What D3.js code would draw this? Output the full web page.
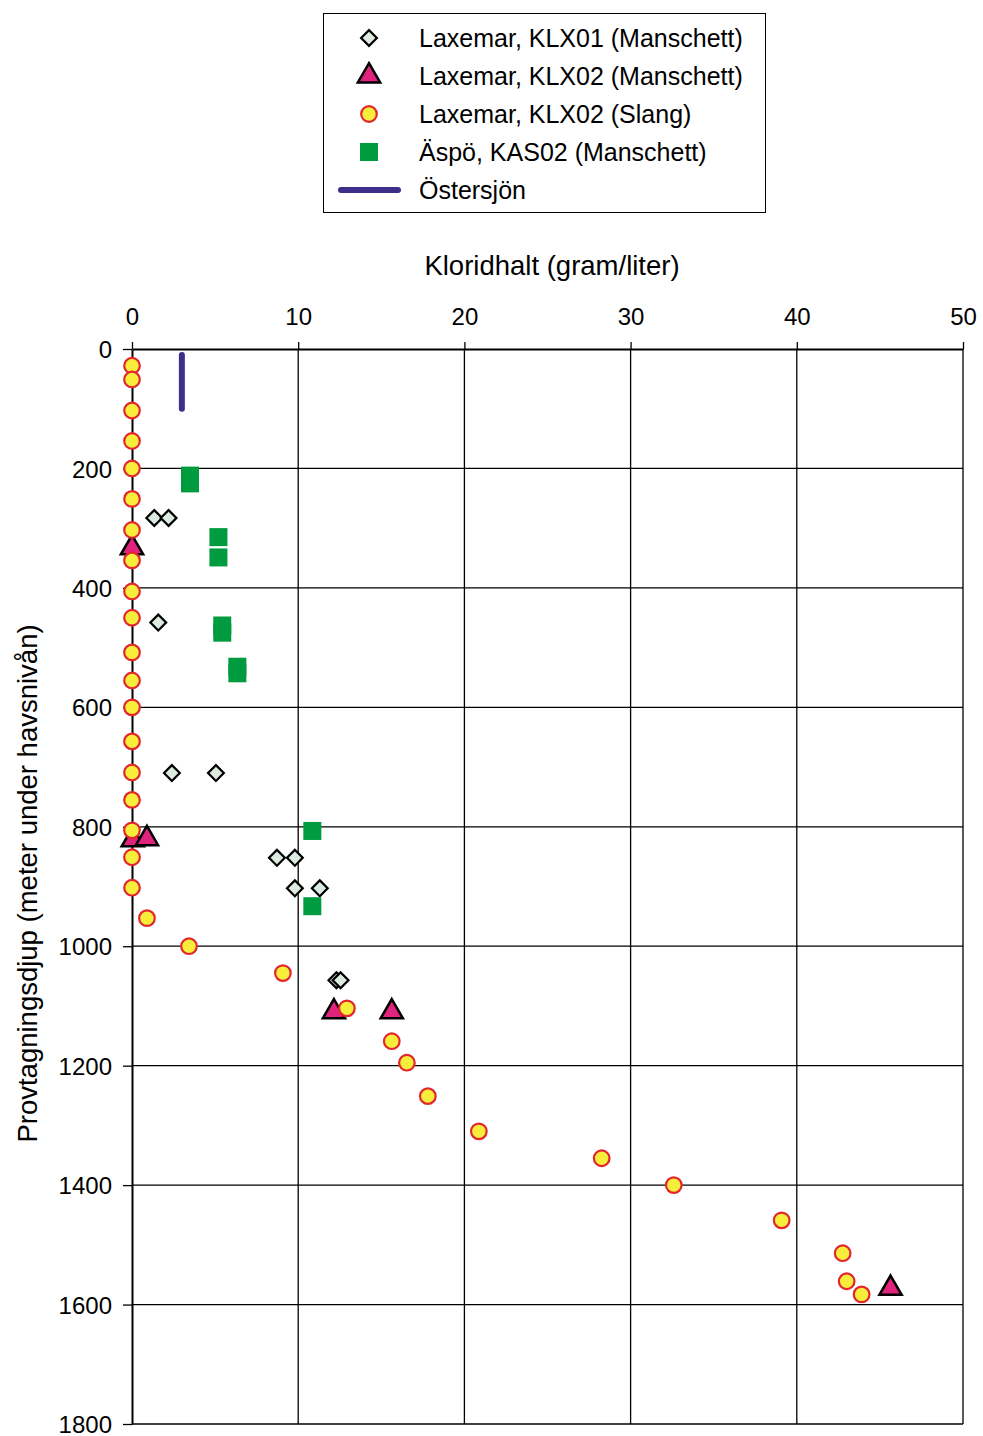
<!DOCTYPE html>
<html>
<head>
<meta charset="utf-8">
<script src="https://cdn.jsdelivr.net/npm/d3@7/dist/d3.min.js"></script>
<style>
  html, body { margin: 0; padding: 0; background: #fff; }
  svg text { font-family: "Liberation Sans", Arial, Helvetica, sans-serif; fill: #000; }
</style>
</head>
<body>
<svg id="chart" width="983" height="1436"></svg>
<script>
// ---- Data ----
const xTicks = [0, 10, 20, 30, 40, 50];
const yTicks = [0, 200, 400, 600, 800, 1000, 1200, 1400, 1600, 1800];

const seriesNames = [
  "Laxemar, KLX01  (Manschett)",
  "Laxemar, KLX02 (Manschett)",
  "Laxemar, KLX02 (Slang)",
  "Äspö, KAS02 (Manschett)",
  "Östersjön"
];

// Laxemar, KLX01 (Manschett) — chloride g/l, depth m
const klx01Chloride = [1.34, 2.2, 1.58, 2.4, 5.05, 8.72, 9.8, 9.8, 11.3, 12.3, 12.55];
const klx01Depth    = [283, 283, 458, 710, 710, 852, 852, 903, 903, 1057, 1057];

// Laxemar, KLX02 (Manschett)
const klx02mChloride = [0, 0.05, 0.9, 12.15, 15.63, 45.64];
const klx02mDepth    = [333, 822, 820, 1110, 1110, 1573];

// Laxemar, KLX02 (Slang)
const klx02sChloride = [0, 0, 0, 0, 0, 0, 0, 0, 0, 0, 0, 0, 0, 0, 0, 0, 0, 0, 0,
  0.9, 3.43, 9.08, 12.93, 15.63, 16.54, 17.8, 20.87, 28.26, 32.6, 39.09, 42.76, 43.0, 43.9];
const klx02sDepth    = [28, 51, 103, 154, 200, 251, 303, 354, 406, 450, 508, 555, 600, 657, 709, 755, 806, 851, 902,
  953, 1000, 1045, 1104, 1159, 1195, 1251, 1310, 1355, 1400, 1459, 1514, 1561, 1583];

// Äspö, KAS02 (Manschett)
const kas02Chloride = [3.49, 3.49, 5.2, 5.2, 5.43, 5.43, 6.34, 6.34, 10.85, 10.85];
const kas02Depth    = [212, 225, 315, 349, 463, 475, 532, 543, 807, 933];

// Östersjön
const balticChloride = [3.0, 3.0];
const balticDepth    = [10, 100];

// ---- Layout ----
const svg = d3.select("#chart");
const mLeft = 132, mRight = 963, mTop = 349, mBottom = 1424;
const fontFam = '"Liberation Sans", Arial, Helvetica, sans-serif';

const x = d3.scaleLinear().domain([0, 50]).range([mLeft, mRight]);
const y = d3.scaleLinear().domain([0, 1800]).range([mTop, mBottom]);

const zip = (a, b) => a.map((v, i) => [v, b[i]]);

// Grid
const grid = svg.append("g");
grid.selectAll("line.vg").data(xTicks.slice(1)).join("line")
  .attr("x1", d => x(d)).attr("x2", d => x(d))
  .attr("y1", mTop).attr("y2", mBottom)
  .attr("stroke", "#000").attr("stroke-width", 1.3);
grid.selectAll("line.hg").data(yTicks.slice(1)).join("line")
  .attr("x1", mLeft).attr("x2", mRight)
  .attr("y1", d => y(d)).attr("y2", d => y(d))
  .attr("stroke", "#000").attr("stroke-width", 1.3);

// Axes
const xAxis = svg.append("g").attr("transform", `translate(0,${mTop})`)
  .call(d3.axisTop(x).tickValues(xTicks).tickFormat(d3.format("d"))
    .tickSize(7).tickSizeOuter(0).tickPadding(17));
const yAxis = svg.append("g").attr("transform", `translate(${mLeft},0)`)
  .call(d3.axisLeft(y).tickValues(yTicks).tickFormat(d3.format("d"))
    .tickSize(9).tickSizeOuter(0).tickPadding(11));
[xAxis, yAxis].forEach(g => {
  g.select(".domain").attr("stroke", "#000").attr("stroke-width", 2);
  g.selectAll(".tick line").attr("stroke", "#000").attr("stroke-width", 1.3);
  g.selectAll(".tick text").attr("font-size", 24)
    .attr("font-family", fontFam).attr("fill", "#000");
});
yAxis.selectAll(".tick text").attr("dy", "0.36em");

// Axis titles
svg.append("text").attr("x", 552).attr("y", 275).attr("text-anchor", "middle")
  .attr("font-size", 27.5).text("Kloridhalt (gram/liter)");
svg.append("text").attr("transform", `translate(37,${(mTop + mBottom) / 2 - 3}) rotate(-90)`)
  .attr("text-anchor", "middle").attr("font-size", 27.5)
  .text("Provtagningsdjup (meter under havsnivån)");

// Styles
const styles = {
  diamond: { fill: "#dcebdf", stroke: "#000", sw: 2.2 },
  triangle: { fill: "#e0237d", stroke: "#000", sw: 2.5 },
  circle: { fill: "#f7ee3c", stroke: "#e3262d", sw: 2.2 },
  square: { fill: "#009b3e" },
  line: { stroke: "#3f2d8a", sw: 6 }
};

const diamondPath = d3.symbol().type(d3.symbolSquare).size(125)();
const trianglePath = d3.symbol().type(d3.symbolTriangle).size(215)();

const marks = svg.append("g");

// Östersjön line
marks.append("path")
  .datum(zip(balticChloride, balticDepth))
  .attr("d", d3.line().x(d => x(d[0])).y(d => y(d[1])))
  .attr("stroke", styles.line.stroke).attr("stroke-width", styles.line.sw)
  .attr("stroke-linecap", "round").attr("fill", "none");

// KLX01 diamonds
marks.append("g").selectAll("path").data(zip(klx01Chloride, klx01Depth)).join("path")
  .attr("d", diamondPath)
  .attr("transform", d => `translate(${x(d[0])},${y(d[1])}) rotate(45)`)
  .attr("fill", styles.diamond.fill).attr("stroke", styles.diamond.stroke)
  .attr("stroke-width", styles.diamond.sw);

// KAS02 squares
marks.append("g").selectAll("rect").data(zip(kas02Chloride, kas02Depth)).join("rect")
  .attr("x", d => x(d[0]) - 9).attr("y", d => y(d[1]) - 9)
  .attr("width", 18).attr("height", 18)
  .attr("fill", styles.square.fill);

// KLX02 Manschett triangles
marks.append("g").selectAll("path").data(zip(klx02mChloride, klx02mDepth)).join("path")
  .attr("d", trianglePath)
  .attr("transform", d => `translate(${x(d[0])},${y(d[1])})`)
  .attr("fill", styles.triangle.fill).attr("stroke", styles.triangle.stroke)
  .attr("stroke-width", styles.triangle.sw).attr("stroke-linejoin", "miter");

// KLX02 Slang circles
marks.append("g").selectAll("circle").data(zip(klx02sChloride, klx02sDepth)).join("circle")
  .attr("cx", d => x(d[0])).attr("cy", d => y(d[1])).attr("r", 7.8)
  .attr("fill", styles.circle.fill).attr("stroke", styles.circle.stroke)
  .attr("stroke-width", styles.circle.sw);

// Legend
const lg = svg.append("g");
lg.append("rect").attr("x", 323.5).attr("y", 13.5).attr("width", 442).attr("height", 199)
  .attr("fill", "#fff").attr("stroke", "#000").attr("stroke-width", 1);
const rowY = [38, 76, 114, 152, 190];
const symX = 369, textX = 419;
seriesNames.forEach((name, i) => {
  lg.append("text").attr("x", textX).attr("y", rowY[i] + 9)
    .attr("font-size", 25).text(name);
});
lg.append("path").attr("d", diamondPath)
  .attr("transform", `translate(${symX},${rowY[0]}) rotate(45)`)
  .attr("fill", styles.diamond.fill).attr("stroke", styles.diamond.stroke).attr("stroke-width", styles.diamond.sw);
lg.append("path").attr("d", trianglePath)
  .attr("transform", `translate(${symX},${rowY[1]})`)
  .attr("fill", styles.triangle.fill).attr("stroke", styles.triangle.stroke).attr("stroke-width", styles.triangle.sw);
lg.append("circle").attr("cx", symX).attr("cy", rowY[2]).attr("r", 7.8)
  .attr("fill", styles.circle.fill).attr("stroke", styles.circle.stroke).attr("stroke-width", styles.circle.sw);
lg.append("rect").attr("x", symX - 9).attr("y", rowY[3] - 9).attr("width", 18).attr("height", 18)
  .attr("fill", styles.square.fill);
lg.append("line").attr("x1", 341).attr("x2", 398).attr("y1", rowY[4]).attr("y2", rowY[4])
  .attr("stroke", styles.line.stroke).attr("stroke-width", styles.line.sw).attr("stroke-linecap", "round");
</script>
</body>
</html>
